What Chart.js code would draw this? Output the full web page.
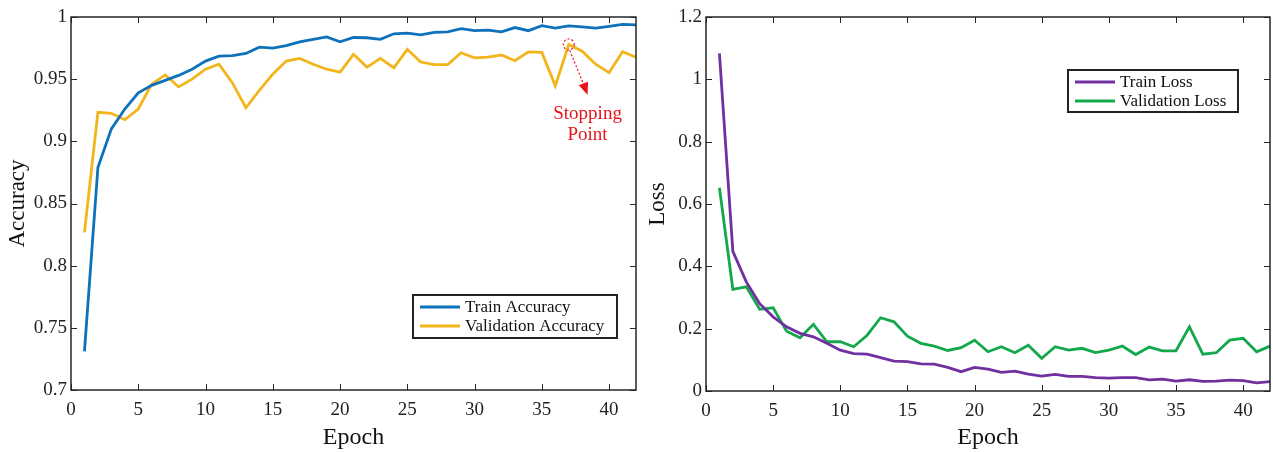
<!DOCTYPE html>
<html>
<head>
<meta charset="utf-8">
<script src="https://cdn.jsdelivr.net/npm/chart.js@4/dist/chart.umd.min.js"></script>
<style>
  body { margin: 0; background: #fff; }
  .wrap { position: absolute; top: 0; height: 452px; }
</style>
</head>
<body>
<div class="wrap" style="left:0;width:640px"><canvas id="acc_chart"></canvas></div>
<div class="wrap" style="left:640px;width:633px"><canvas id="loss_chart"></canvas></div>
<script>
var epochs = [];
for (var i = 1; i <= 42; i++) epochs.push(i);

var train_acc = [0.731, 0.879, 0.910, 0.926, 0.939, 0.945, 0.949, 0.953, 0.958, 0.9645,
    0.9685, 0.969, 0.9707, 0.9757, 0.975, 0.977, 0.980, 0.982, 0.984, 0.980,
    0.9835, 0.9833, 0.982, 0.9865, 0.987, 0.9857, 0.9877, 0.988, 0.9906, 0.989,
    0.9895, 0.988, 0.9915, 0.989, 0.993, 0.991, 0.9928, 0.992, 0.991, 0.9925,
    0.994, 0.9936];
var val_acc = [0.8268, 0.9233, 0.9225, 0.9174, 0.926, 0.946, 0.9534, 0.9438, 0.950, 0.958,
    0.962, 0.947, 0.927, 0.941, 0.954, 0.9646, 0.9667, 0.962, 0.958, 0.9557,
    0.970, 0.9597, 0.9667, 0.9592, 0.974, 0.9638, 0.9617, 0.9617, 0.9712, 0.9672,
    0.9677, 0.9694, 0.9648, 0.972, 0.9715, 0.9446, 0.9779, 0.9725, 0.962, 0.9552,
    0.972, 0.9677];
var train_loss = [1.083, 0.448, 0.350, 0.280, 0.238, 0.206, 0.185, 0.174, 0.153, 0.131,
    0.120, 0.118, 0.107, 0.096, 0.094, 0.087, 0.086, 0.076, 0.062, 0.076,
    0.070, 0.060, 0.064, 0.054, 0.048, 0.053, 0.047, 0.047, 0.043, 0.041,
    0.043, 0.043, 0.036, 0.038, 0.032, 0.036, 0.031, 0.032, 0.035, 0.033,
    0.026, 0.030];
var val_loss = [0.652, 0.326, 0.334, 0.262, 0.267, 0.192, 0.171, 0.214, 0.158, 0.158,
    0.142, 0.179, 0.235, 0.222, 0.176, 0.153, 0.144, 0.130, 0.139, 0.163,
    0.126, 0.142, 0.123, 0.147, 0.105, 0.142, 0.131, 0.137, 0.123, 0.131,
    0.144, 0.117, 0.141, 0.129, 0.129, 0.206, 0.118, 0.123, 0.163, 0.169,
    0.126, 0.144];

var epoch_ticks = [0, 5, 10, 15, 20, 25, 30, 35, 40];
var acc_ticks = [0.7, 0.75, 0.8, 0.85, 0.9, 0.95, 1];
var loss_ticks = [0, 0.2, 0.4, 0.6, 0.8, 1, 1.2];
var stop_epoch = 37;

var serif = "'Liberation Serif', 'Times New Roman', serif";

function toPoints(values){
    return values.map(function(v, i){ return {x: epochs[i], y: v}; });
}

// matlab style box with inward ticks
var boxPlugin = {
    id: 'box',
    afterDatasetsDraw: function(chart){
        var ctx = chart.ctx, a = chart.chartArea;
        var xs = chart.scales.x, ys = chart.scales.y;
        ctx.save();
        ctx.strokeStyle = '#262626';
        ctx.lineWidth = 1;
        xs.ticks.forEach(function(t){
            var px = Math.round(xs.getPixelForValue(t.value)) + 0.5;
            ctx.beginPath();
            ctx.moveTo(px, a.bottom); ctx.lineTo(px, a.bottom - 6);
            ctx.moveTo(px, a.top); ctx.lineTo(px, a.top + 6);
            ctx.stroke();
        });
        ys.ticks.forEach(function(t){
            var py = Math.round(ys.getPixelForValue(t.value)) + 0.5;
            ctx.beginPath();
            ctx.moveTo(a.left, py); ctx.lineTo(a.left + 6, py);
            ctx.moveTo(a.right, py); ctx.lineTo(a.right - 6, py);
            ctx.stroke();
        });
        ctx.lineWidth = 1.5;
        ctx.strokeRect(a.left, a.top, a.right - a.left, a.bottom - a.top);
        ctx.restore();
    }
};

// legend box inside the plot
var innerLegend = {
    id: 'innerLegend',
    afterDraw: function(chart, args, opts){
        var ctx = chart.ctx;
        var x = opts.x, y = opts.y, w = opts.w, h = opts.h;
        ctx.save();
        ctx.fillStyle = '#fff';
        ctx.fillRect(x, y, w, h);
        ctx.strokeStyle = '#222';
        ctx.lineWidth = 2;
        ctx.strokeRect(x, y, w, h);
        ctx.font = '17px ' + serif;
        ctx.textBaseline = 'middle';
        chart.data.datasets.forEach(function(ds, i){
            var ly = y + 12 + i * 19;
            ctx.strokeStyle = ds.borderColor;
            ctx.lineWidth = 3;
            ctx.beginPath();
            ctx.moveTo(x + 7, ly); ctx.lineTo(x + 47, ly);
            ctx.stroke();
            ctx.fillStyle = '#111';
            ctx.fillText(ds.label, x + 52, ly + 1);
        });
        ctx.restore();
    }
};

var stopPlugin = {
    id: 'stopMark',
    afterDatasetsDraw: function(chart){
        var ctx = chart.ctx, xs = chart.scales.x, ys = chart.scales.y;
        var cx = xs.getPixelForValue(stop_epoch);
        var cy = ys.getPixelForValue(val_acc[stop_epoch - 1]);
        var tx = xs.getPixelForValue(38.4), ty = ys.getPixelForValue(0.9375);
        ctx.save();
        ctx.strokeStyle = '#e8141c';
        ctx.fillStyle = '#e8141c';
        ctx.lineWidth = 1.2;
        ctx.setLineDash([2, 2]);
        ctx.beginPath();
        ctx.arc(cx, cy, 5.5, 0, Math.PI * 2);
        ctx.stroke();
        var ang = Math.atan2(ty - cy, tx - cx);
        ctx.beginPath();
        ctx.moveTo(cx + 1, cy + 6);
        ctx.lineTo(tx - 10 * Math.cos(ang), ty - 10 * Math.sin(ang));
        ctx.stroke();
        ctx.setLineDash([]);
        ctx.beginPath();
        ctx.moveTo(tx, ty);
        ctx.lineTo(tx - 12 * Math.cos(ang) + 5 * Math.sin(ang), ty - 12 * Math.sin(ang) - 5 * Math.cos(ang));
        ctx.lineTo(tx - 12 * Math.cos(ang) - 5 * Math.sin(ang), ty - 12 * Math.sin(ang) + 5 * Math.cos(ang));
        ctx.closePath();
        ctx.fill();
        ctx.font = '19px ' + serif;
        ctx.textAlign = 'center';
        ctx.textBaseline = 'middle';
        ctx.fillText('Stopping', tx, ty + 19);
        ctx.fillText('Point', tx, ty + 40);
        ctx.restore();
    }
};

function makeOptions(cfg){
    return {
        responsive: true,
        maintainAspectRatio: false,
        animation: false,
        layout: { padding: { top: cfg.top, right: cfg.right, left: 0, bottom: 0 } },
        plugins: {
            legend: { display: false },
            tooltip: { enabled: false },
            innerLegend: cfg.legend
        },
        scales: {
            x: {
                type: 'linear', min: 0, max: 42,
                afterFit: function(s){ s.height = cfg.xh; },
                afterBuildTicks: function(s){ s.ticks = epoch_ticks.map(function(v){ return {value: v}; }); },
                grid: { display: false, drawTicks: false },
                border: { display: false },
                ticks: { padding: 9, color: '#222', font: { family: serif, size: 19 } },
                title: { display: true, text: 'Epoch', color: '#111', padding: { top: 6, bottom: 0 }, font: { family: serif, size: 24 } }
            },
            y: {
                min: cfg.ymin, max: cfg.ymax,
                afterFit: function(s){ s.width = cfg.yw; },
                afterBuildTicks: function(s){ s.ticks = cfg.ticks.map(function(v){ return {value: v}; }); },
                grid: { display: false, drawTicks: false },
                border: { display: false },
                ticks: {
                    padding: 4, color: '#222', font: { family: serif, size: 19 },
                    callback: function(v){ return String(+v.toFixed(2)); }
                },
                title: { display: true, text: cfg.ytitle, color: '#111', padding: { bottom: 2 }, font: { family: serif, size: 23 } }
            }
        }
    };
}

function lineSet(label, values, color){
    return { label: label, data: toPoints(values), borderColor: color, borderWidth: 2.8,
        pointRadius: 0, tension: 0, fill: false };
}

new Chart(document.getElementById('acc_chart'), {
    type: 'line',
    data: { datasets: [
        lineSet('Train Accuracy', train_acc, '#0e72bb'),
        lineSet('Validation Accuracy', val_acc, '#f2b51c')
    ] },
    options: makeOptions({ top: 17, right: 4, xh: 62, yw: 71, ymin: 0.7, ymax: 1,
        ticks: acc_ticks, ytitle: 'Accuracy',
        legend: { x: 413, y: 295, w: 204, h: 43 } }),
    plugins: [boxPlugin, stopPlugin, innerLegend]
});

new Chart(document.getElementById('loss_chart'), {
    type: 'line',
    data: { datasets: [
        lineSet('Train Loss', train_loss, '#7030a0'),
        lineSet('Validation Loss', val_loss, '#14a84c')
    ] },
    options: makeOptions({ top: 17, right: 3, xh: 61, yw: 66, ymin: 0, ymax: 1.2,
        ticks: loss_ticks, ytitle: 'Loss',
        legend: { x: 428, y: 70, w: 170, h: 42 } }),
    plugins: [boxPlugin, innerLegend]
});
</script>
</body>
</html>
